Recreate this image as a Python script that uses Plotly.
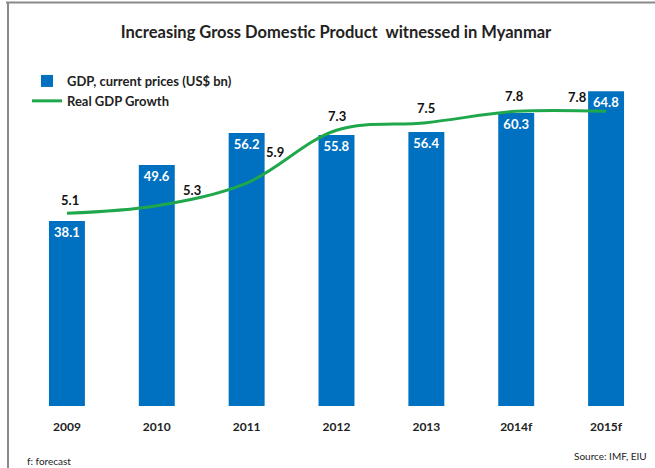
import plotly.graph_objects as go

years = ["2009", "2010", "2011", "2012", "2013", "2014f", "2015f"]
gdp = [38.1, 49.6, 56.2, 55.8, 56.4, 60.3, 64.8]
growth = [5.1, 5.3, 5.9, 7.3, 7.5, 7.8, 7.8]

# label offsets (pixels) for growth labels
lab_dx = [3, 35, 28, 0, 0, -2, -29]
lab_dy = [13, 16, 31, 14, 15, 15, 14]

FONT = "Lato"
BLUE = "#0070C0"
GREEN = "#1FA84B"

fig = go.Figure()
fig.add_trace(go.Bar(
    x=years, y=gdp, name="<b>GDP, current prices (US$ bn)</b>",
    marker=dict(color=BLUE, line=dict(width=0)),
    width=0.4,
    text=[f"<b>{v:.1f}</b>" for v in gdp], textposition="inside",
    insidetextanchor="end", textangle=0,
    textfont=dict(color="white", size=13, family=FONT),
))
fig.add_trace(go.Scatter(
    x=years, y=growth, name="<b>Real GDP Growth</b>", yaxis="y2",
    mode="lines", line=dict(color=GREEN, width=3, shape="spline"),
))

# category index used as annotation position (numeric-looking strings would be misread)
for i, (g, dx, dy) in enumerate(zip(growth, lab_dx, lab_dy)):
    fig.add_annotation(x=i, y=g, xref="x", yref="y2", text=f"<b>{g:.1f}</b>", showarrow=False,
                       xshift=dx, yshift=dy,
                       font=dict(size=13, color="#111111", family=FONT))

W, H = 655, 468
L, R, T, B = 22, 4, 66, 62
pw, ph = W - L - R, H - T - B

def to_px(x):
    return (x - L) / pw

def to_py(y):
    return (H - B - y) / ph

# frame lines (top and left)
fig.add_shape(type="line", xref="paper", yref="paper",
              x0=to_px(6), x1=to_px(655), y0=to_py(2.5), y1=to_py(2.5),
              line=dict(color="#8a8a8a", width=2))
fig.add_shape(type="line", xref="paper", yref="paper",
              x0=to_px(8), x1=to_px(8), y0=to_py(2), y1=to_py(468),
              line=dict(color="#8a8a8a", width=2))

fig.add_annotation(xref="paper", yref="paper", x=to_px(25), y=to_py(461), xanchor="left",
                   yanchor="middle", text="f: forecast", showarrow=False,
                   font=dict(size=10, color="#222222", family=FONT))
fig.add_annotation(xref="paper", yref="paper", x=to_px(649), y=to_py(456), xanchor="right",
                   yanchor="middle", text="Source: IMF, EIU", showarrow=False,
                   font=dict(size=10, color="#222222", family=FONT))

fig.update_layout(
    width=W, height=H,
    margin=dict(l=L, r=R, t=T, b=B),
    paper_bgcolor="white", plot_bgcolor="white",
    title=dict(text="<b>Increasing Gross Domestic Product  witnessed in Myanmar</b>",
               x=0.513, xanchor="center", y=1 - 32 / H, yanchor="middle",
               font=dict(size=16.5, color="#222222", family=FONT)),
    font=dict(family=FONT, color="#222222"),
    xaxis=dict(type="category", range=[-0.5, 6.5], showgrid=False, showline=False, zeroline=False,
               ticks="outside", ticklen=10, tickcolor="rgba(0,0,0,0)",
               tickvals=years, ticktext=[f"<b>{y}</b>" for y in years],
               tickfont=dict(size=12, color="#222222", family=FONT)),
    yaxis=dict(range=[0, 70], showticklabels=False, showgrid=False, zeroline=False, showline=False, ticks=""),
    yaxis2=dict(range=[0, 9], overlaying="y", side="right", showticklabels=False,
                showgrid=False, zeroline=False, showline=False, ticks=""),
    legend=dict(x=to_px(27), y=to_py(66), xanchor="left", yanchor="top",
                bgcolor="rgba(0,0,0,0)", tracegroupgap=4,
                font=dict(size=13, color="#222222", family=FONT)),
    showlegend=True,
)

fig.write_html("out.html", config={"displayModeBar": False},
               post_script="document.body.style.margin='0px';")
